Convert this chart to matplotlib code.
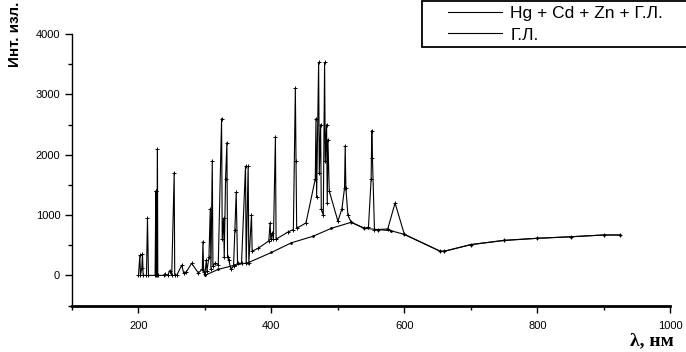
import matplotlib
matplotlib.use("Agg")
import matplotlib.pyplot as plt
from matplotlib.ticker import MultipleLocator
from matplotlib.patches import Rectangle

# Spectrum Hg+Cd+Zn+Г.Л. (wavelength, nm ; intensity)
spec_wl = [200, 202, 203, 205, 206, 207, 212, 213.5, 215, 225, 226, 226.5, 227, 227.5,
           228.5, 229, 238, 240, 244, 247, 250, 253.7, 254.5, 258, 265, 268, 272, 280,
           290, 296, 297, 298, 300, 302, 303, 306, 308, 309, 311, 312, 315, 320, 325,
           326, 328, 329, 331, 333, 334, 336, 339, 343, 345, 347, 349, 355, 361, 362,
           365, 366, 370, 371, 380, 396, 398, 399, 401, 403, 406, 407, 425, 433, 436,
           437, 438, 452, 466, 467, 468, 471, 472, 474, 475, 478, 480, 481, 483, 484,
           485, 487, 500, 506, 510, 511, 512, 515, 520, 540, 546, 550, 551, 552, 555,
           560, 575, 586, 600, 654, 660, 700, 750, 800, 850, 900, 925]
spec_int = [0, 330, 0, 130, 350, 0, 0, 950, 0, 0, 1400, 0, 1400, 0,
            2100, 0, 0, 20, 0, 80, 0, 1700, 0, 10, 170, 40, 60, 200,
            40, 100, 560, 50, 30, 250, 80, 300, 1100, 100, 1900, 150, 200, 180, 2600,
            600, 950, 300, 1600, 2200, 300, 250, 100, 150, 750, 1380, 200, 200, 1810, 200,
            1810, 200, 1000, 400, 450, 570, 870, 600, 700, 600, 2300, 600, 720, 760, 3100,
            1900, 780, 870, 1600, 2600, 1300, 3530, 1700, 2500, 1100, 1000, 3530, 1900, 2500, 1200,
            2250, 1400, 900, 1100, 1450, 2150, 1450, 1000, 880, 780, 800, 1600, 2400, 1950, 760,
            760, 770, 1200, 680, 400, 400, 510, 580, 615, 640, 670, 670]

# Г.Л. (background lamp)
gl_wl = [300, 320, 345, 365, 400, 430, 463, 490, 520, 540, 560, 580, 600, 654, 660,
         700, 750, 800, 850, 900, 925]
gl_int = [0, 100, 170, 210, 380, 540, 650, 780, 880, 780, 760, 740, 680, 400, 400,
          510, 580, 615, 640, 670, 670]

legend_labels = ["Hg + Cd + Zn + Г.Л.", "Г.Л."]

plt.rcParams['font.family'] = ['Liberation Sans', 'DejaVu Sans']

fig = plt.figure(figsize=(6.86, 3.52), dpi=100)
ax = fig.add_axes([0.105, 0.132, 0.872, 0.771])

l1, = ax.plot(spec_wl, spec_int, color='black', lw=0.8, marker='+', ms=3, mew=0.7)
l2, = ax.plot(gl_wl, gl_int, color='black', lw=0.8, marker='.', ms=2)

ax.set_xlim(100, 1000)
ax.set_ylim(-500, 4000)
ax.xaxis.set_major_locator(MultipleLocator(200))
ax.xaxis.set_minor_locator(MultipleLocator(100))
ax.yaxis.set_major_locator(MultipleLocator(1000))
ax.yaxis.set_minor_locator(MultipleLocator(500))

for s in ['top', 'right']:
    ax.spines[s].set_visible(False)
ax.spines['left'].set_linewidth(1.0)
ax.spines['bottom'].set_linewidth(2.0)
ax.tick_params(axis='both', which='major', direction='out', length=5, width=1,
               labelsize=8, color='black', labelcolor='black')
ax.tick_params(axis='both', which='minor', direction='out', length=3, width=1)
ax.tick_params(axis='x', which='major', pad=6)

fig.text(0.022, 0.995, "Инт. изл.", rotation=90, ha='center', va='top',
         fontsize=11, fontweight='bold')
fig.text(0.982, 0.008, "λ, нм", ha='right', va='bottom', fontsize=14,
         fontweight='bold', family=['Liberation Serif', 'DejaVu Serif'])

# legend frame (box runs off the right edge as in the reference)
fig.patches.append(Rectangle((422 / 686, 1 - 47 / 352), 0.5, 46 / 352,
                             transform=fig.transFigure, facecolor='white',
                             edgecolor='black', lw=1.3, zorder=5))
leg = fig.legend([l1, l2], legend_labels, loc='upper left',
                 bbox_to_anchor=(448 / 686, 1 - 6 / 352), fontsize=12.5,
                 frameon=False, handlelength=3.1, handletextpad=0.5,
                 borderpad=0.0, labelspacing=0.36, borderaxespad=0.0)
leg.set_zorder(6)
for h in leg.legend_handles:
    h.set_marker('')

fig.savefig("out.png", dpi=100)
